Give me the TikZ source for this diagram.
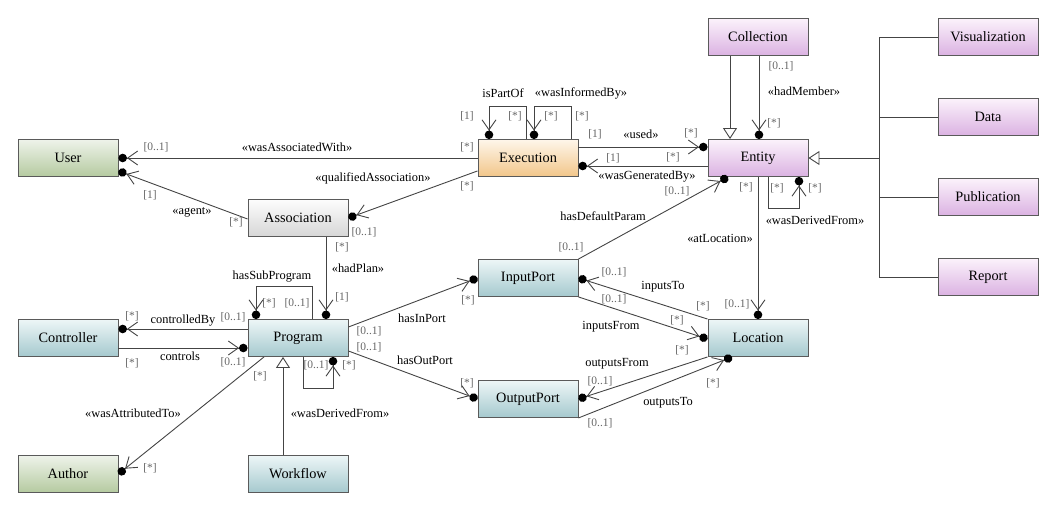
\documentclass[tikz,border=0pt]{standalone}
\usepackage{fontspec}
\setmainfont{Liberation Serif}
\usetikzlibrary{arrows.meta}
\definecolor{boxline}{HTML}{5A5A5A}
\definecolor{linegray}{HTML}{444444}
\definecolor{multgray}{HTML}{666666}
\definecolor{greentop}{HTML}{EEF3EA}
\definecolor{greenbot}{HTML}{B5CAA0}
\definecolor{graytop}{HTML}{FDFDFD}
\definecolor{graybot}{HTML}{D6D6D6}
\definecolor{orangetop}{HTML}{FEF6EA}
\definecolor{orangebot}{HTML}{F2C68A}
\definecolor{pinktop}{HTML}{FBF2FB}
\definecolor{pinkbot}{HTML}{DBB2E2}
\definecolor{bluetop}{HTML}{EDF6F7}
\definecolor{bluebot}{HTML}{A5C9CE}
\tikzset{
  klass/.style={draw=boxline, line width=0.9pt, minimum width=100pt, minimum height=37pt,
    inner sep=0pt, font=\fontsize{14.3}{16}\selectfont},
  greenbox/.style={klass, top color=greentop, bottom color=greenbot},
  graybox/.style={klass, top color=graytop, bottom color=graybot},
  orangebox/.style={klass, top color=orangetop, bottom color=orangebot},
  pinkbox/.style={klass, top color=pinktop, bottom color=pinkbot},
  bluebox/.style={klass, top color=bluetop, bottom color=bluebot},
  assocline/.style={draw=linegray, line width=0.9pt},
  navend/.style={assocline, -{Straight Barb[length=10pt,width=14pt] Circle[length=8.5pt,color=black,fill=black]}},
  genend/.style={assocline, -{Triangle[open,length=11pt,width=14pt]}},
  multlabel/.style={text=multgray, inner sep=0pt, font=\fontsize{11.5}{12}\selectfont},
  rolelabel/.style={inner sep=0pt, font=\fontsize{12.4}{13}\selectfont},
}
\begin{document}
\begin{tikzpicture}[x=1pt,y=-1pt]
\useasboundingbox (0,0) rectangle (1060,510);

% classes
\node[greenbox] (user) at (68,158) {User};
\node[graybox] (assoc) at (298,218) {Association};
\node[orangebox] (exec) at (528,158) {Execution};
\node[pinkbox] (entity) at (758,158) {Entity};
\node[pinkbox] (coll) at (758,37) {Collection};
\node[pinkbox] (vis) at (988,37) {Visualization};
\node[pinkbox] (data) at (988,117) {Data};
\node[pinkbox] (pub) at (988,197) {Publication};
\node[pinkbox] (report) at (988,277) {Report};
\node[bluebox] (ctrl) at (68,338) {Controller};
\node[bluebox] (prog) at (298,338) {Program};
\node[bluebox] (inport) at (528,278) {InputPort};
\node[bluebox] (outport) at (528,399) {OutputPort};
\node[bluebox] (loc) at (758,338) {Location};
\node[greenbox] (author) at (68,474) {Author};
\node[bluebox] (wflow) at (298,474) {Workflow};

% generalisations
\coordinate (bus) at (879,158);
\draw[assocline] (vis.west) -- (vis.west -| bus) -- (report.west -| bus) -- (report.west);
\draw[assocline] (data.west) -- (data.west -| bus);
\draw[assocline] (pub.west) -- (pub.west -| bus);
\draw[genend] (bus) -- (entity.east);
\draw[genend] ([xshift=-28pt]coll.south) -- ([xshift=-28pt]entity.north);
\draw[genend] ([xshift=-15pt]wflow.north) -- ([xshift=-15pt]prog.south);

% associations
\draw[navend] (exec.west) -- (user.east);
\node[multlabel] (mAwU) at (156,147) {[0..1]};
\node[rolelabel] (tAw) at (297,147) {«wasAssociatedWith»};
\node[multlabel] (mAwE) at (467,147) {[*]};

\draw[navend] ([yshift=-1pt]assoc.west) -- ([yshift=-13pt]user.east);
\node[multlabel] (mAgU) at (150,195) {[1]};
\node[rolelabel] (tAg) at (192,212) {«agent»};
\node[multlabel] (mAgA) at (236,222) {[*]};

\draw[navend] ([yshift=6pt]exec.south west) -- (assoc.east);
\node[rolelabel] (tQa) at (373,178) {«qualifiedAssociation»};
\node[multlabel] (mQaE) at (467,186) {[*]};
\node[multlabel] (mQaA) at (364,232) {[0..1]};

\draw[navend] ([xshift=-2pt]exec.north) -- ++(0,-33) -| ([xshift=-39pt]exec.north);
\node[rolelabel] (tPo) at (503,93) {isPartOf};
\node[multlabel] (mPoA) at (467,116) {[1]};
\node[multlabel] (mPoB) at (515,116) {[*]};

\draw[navend] ([xshift=43pt]exec.north) -- ++(0,-33) -| ([xshift=6pt]exec.north);
\node[rolelabel] (tIb) at (581,93) {«wasInformedBy»};
\node[multlabel] (mIbA) at (551,116) {[*]};
\node[multlabel] (mIbB) at (582,116) {[*]};

\draw[navend] ([yshift=11pt]exec.east) -- ([yshift=11pt]entity.west);
\node[multlabel] (mUsE) at (595,134) {[1]};
\node[rolelabel] (tUs) at (641,134) {«used»};
\node[multlabel] (mUsN) at (691,133) {[*]};

\draw[navend] ([yshift=-8pt]entity.west) -- ([yshift=-8pt]exec.east);
\node[multlabel] (mGbE) at (613,158) {[1]};
\node[rolelabel] (tGb) at (647,177) {«wasGeneratedBy»};
\node[multlabel] (mGbN) at (673,157) {[*]};

\draw[navend] ([xshift=1pt]coll.south) -- ([xshift=1pt]entity.north);
\node[multlabel] (mHmC) at (781,66) {[0..1]};
\node[rolelabel] (tHm) at (804,91) {«hadMember»};
\node[multlabel] (mHmE) at (774,123) {[*]};

\draw[navend] ([xshift=10pt]entity.south) -- ++(0,32) -| ([xshift=41pt]entity.south);
\node[multlabel] (mDfA) at (777,188) {[*]};
\node[multlabel] (mDfB) at (815,188) {[*]};
\node[rolelabel] (tDf) at (815,220) {«wasDerivedFrom»};

\draw[navend] (inport.north east) -- ([xshift=-30pt]entity.south);
\node[rolelabel] (tDp) at (603,216) {hasDefaultParam};
\node[multlabel] (mDpE) at (677,191) {[0..1]};
\node[multlabel] (mDpI) at (571,247) {[0..1]};

\draw[navend] (entity.south) -- (loc.north);
\node[multlabel] (mAlE) at (746,187) {[*]};
\node[rolelabel] (tAl) at (720,238) {«atLocation»};
\node[multlabel] (mAlL) at (737,304) {[0..1]};

\draw[navend] ([xshift=28pt]assoc.south) -- ([xshift=28pt]prog.north);
\node[multlabel] (mHpA) at (342,247) {[*]};
\node[rolelabel] (tHp) at (358,268) {«hadPlan»};
\node[multlabel] (mHpP) at (342,297) {[1]};

\draw[navend] ([xshift=14pt]prog.north) -- ++(0,-33) -| ([xshift=-42pt]prog.north);
\node[rolelabel] (tSp) at (272,277) {hasSubProgram};
\node[multlabel] (mSpA) at (269,303) {[*]};
\node[multlabel] (mSpB) at (297,303) {[0..1]};

\draw[navend] ([yshift=9pt]prog.west) -- ([yshift=9pt]ctrl.east);
\node[multlabel] (mCbC) at (132,316) {[*]};
\node[rolelabel] (tCb) at (183,321) {controlledBy};
\node[multlabel] (mCbP) at (233,317) {[0..1]};

\draw[navend] ([yshift=-10pt]ctrl.east) -- ([yshift=-10pt]prog.west);
\node[rolelabel] (tCo) at (180,356) {controls};
\node[multlabel] (mCoC) at (132,363) {[*]};
\node[multlabel] (mCoP) at (233,362) {[0..1]};

\draw[navend] ([yshift=11pt]prog.east) -- (inport.west);
\node[multlabel] (mIpP) at (369,331) {[0..1]};
\node[rolelabel] (tIp) at (422,318) {hasInPort};
\node[multlabel] (mIpI) at (468,300) {[*]};

\draw[navend] ([yshift=-13pt]prog.east) -- (outport.west);
\node[multlabel] (mOpP) at (369,347) {[0..1]};
\node[rolelabel] (tOp) at (425,360) {hasOutPort};
\node[multlabel] (mOpO) at (467,383) {[*]};

\draw[navend] ([xshift=5pt]prog.south) -- ++(0,32) -| ([xshift=35pt]prog.south);
\node[multlabel] (mPdA) at (316,365) {[0..1]};
\node[multlabel] (mPdB) at (349,365) {[*]};

\draw[navend] ([xshift=-34pt]prog.south) -- (author.east);
\node[multlabel] (mAtP) at (260,376) {[*]};
\node[rolelabel] (tAt) at (133,413) {«wasAttributedTo»};
\node[multlabel] (mAtA) at (150,468) {[*]};
\node[rolelabel] (tWd) at (340,413) {«wasDerivedFrom»};

\draw[navend] (loc.north west) -- (inport.east);
\node[multlabel] (mItI) at (614,272) {[0..1]};
\node[rolelabel] (tIt) at (663,287) {inputsTo};
\node[multlabel] (mItL) at (703,306) {[*]};

\draw[navend] (inport.south east) -- ([yshift=-1pt]loc.west);
\node[multlabel] (mIfI) at (614,299) {[0..1]};
\node[rolelabel] (tIf) at (611,327) {inputsFrom};
\node[multlabel] (mIfL) at (677,320) {[*]};

\draw[navend] (loc.south west) -- (outport.east);
\node[rolelabel] (tOf) at (617,364) {outputsFrom};
\node[multlabel] (mOfO) at (600,381) {[0..1]};
\node[multlabel] (mOfL) at (682,350) {[*]};

\draw[navend] (outport.south east) -- ([xshift=-26pt]loc.south);
\node[rolelabel] (tOt) at (668,403) {outputsTo};
\node[multlabel] (mOtO) at (600,423) {[0..1]};
\node[multlabel] (mOtL) at (713,383) {[*]};
\end{tikzpicture}
\end{document}
